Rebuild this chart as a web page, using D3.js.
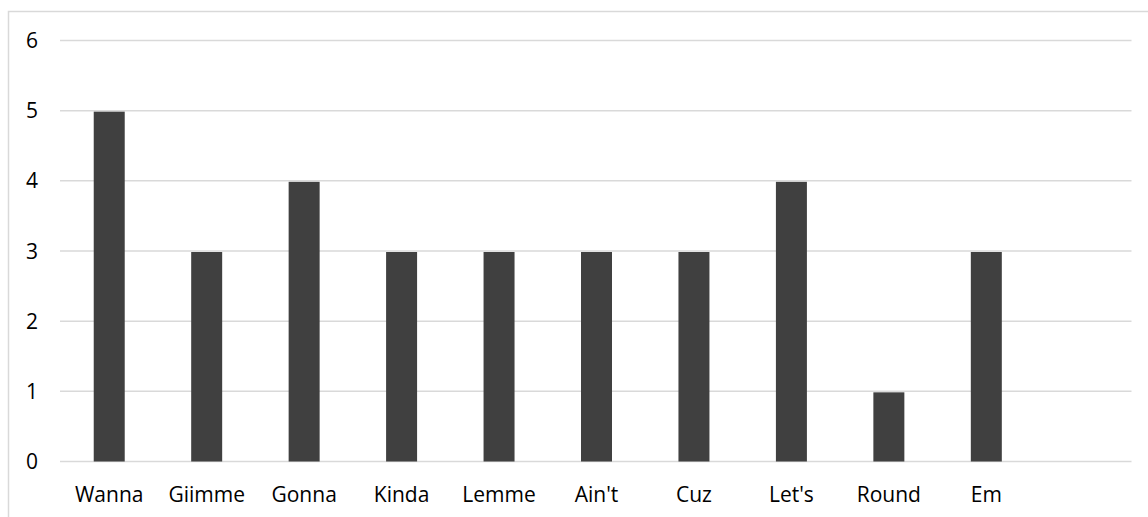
<!DOCTYPE html>
<html>
<head>
<meta charset="utf-8">
<script src="https://cdn.jsdelivr.net/npm/d3@7"></script>
<style>
  html, body { margin: 0; padding: 0; background: #fff; overflow: hidden; }
  svg { display: block; }
</style>
</head>
<body>
<svg id="chart" width="1148" height="517"></svg>
<script>
const categories = ["Wanna", "Giimme", "Gonna", "Kinda", "Lemme", "Ain't", "Cuz", "Let's", "Round", "Em", ""];
const values = [5, 3, 4, 3, 3, 3, 3, 4, 1, 3, null];
const yTicks = [0, 1, 2, 3, 4, 5, 6];

const svg = d3.select("#chart");
const W = 1148, H = 517;
const font = "'Open Sans', sans-serif";

// outer chart border
svg.append("rect")
  .attr("x", 8.5).attr("y", 11.5)
  .attr("width", W).attr("height", H)
  .attr("fill", "none").attr("stroke", "#d9d9d9").attr("stroke-width", 1.5);

const x = d3.scaleBand()
  .domain(categories)
  .range([60.5, 1132.5])
  .paddingInner(0.682)
  .paddingOuter(0.341);

const y = d3.scaleLinear().domain([0, 6]).range([461.5, 40.5]);

// gridlines
svg.append("g").selectAll("line")
  .data(yTicks)
  .join("line")
  .attr("x1", 60).attr("x2", 1131.5)
  .attr("y1", d => y(d)).attr("y2", d => y(d))
  .attr("stroke", "#d9d9d9").attr("stroke-width", 1.5);

// y labels
svg.append("g").selectAll("text")
  .data(yTicks)
  .join("text")
  .attr("x", 38).attr("y", d => y(d))
  .attr("dy", "0.36em")
  .attr("text-anchor", "end")
  .attr("font-family", font).attr("font-size", 21)
  .attr("fill", "#000")
  .text(d => d);

// bars
const data = categories.map((c, i) => ({ c, v: values[i] })).filter(d => d.v != null);
svg.append("g").selectAll("rect")
  .data(data)
  .join("rect")
  .attr("x", d => x(d.c))
  .attr("width", x.bandwidth())
  .attr("y", d => y(d.v) + 1)
  .attr("height", d => y(0) - y(d.v) - 1)
  .attr("fill", "#404040");

// x labels
svg.append("g").selectAll("text")
  .data(categories.filter(c => c !== ""))
  .join("text")
  .attr("x", d => x(d) + x.bandwidth() / 2)
  .attr("y", 501.5)
  .attr("text-anchor", "middle")
  .attr("font-family", font).attr("font-size", 21)
  .attr("fill", "#000")
  .text(d => d);
</script>
</body>
</html>
